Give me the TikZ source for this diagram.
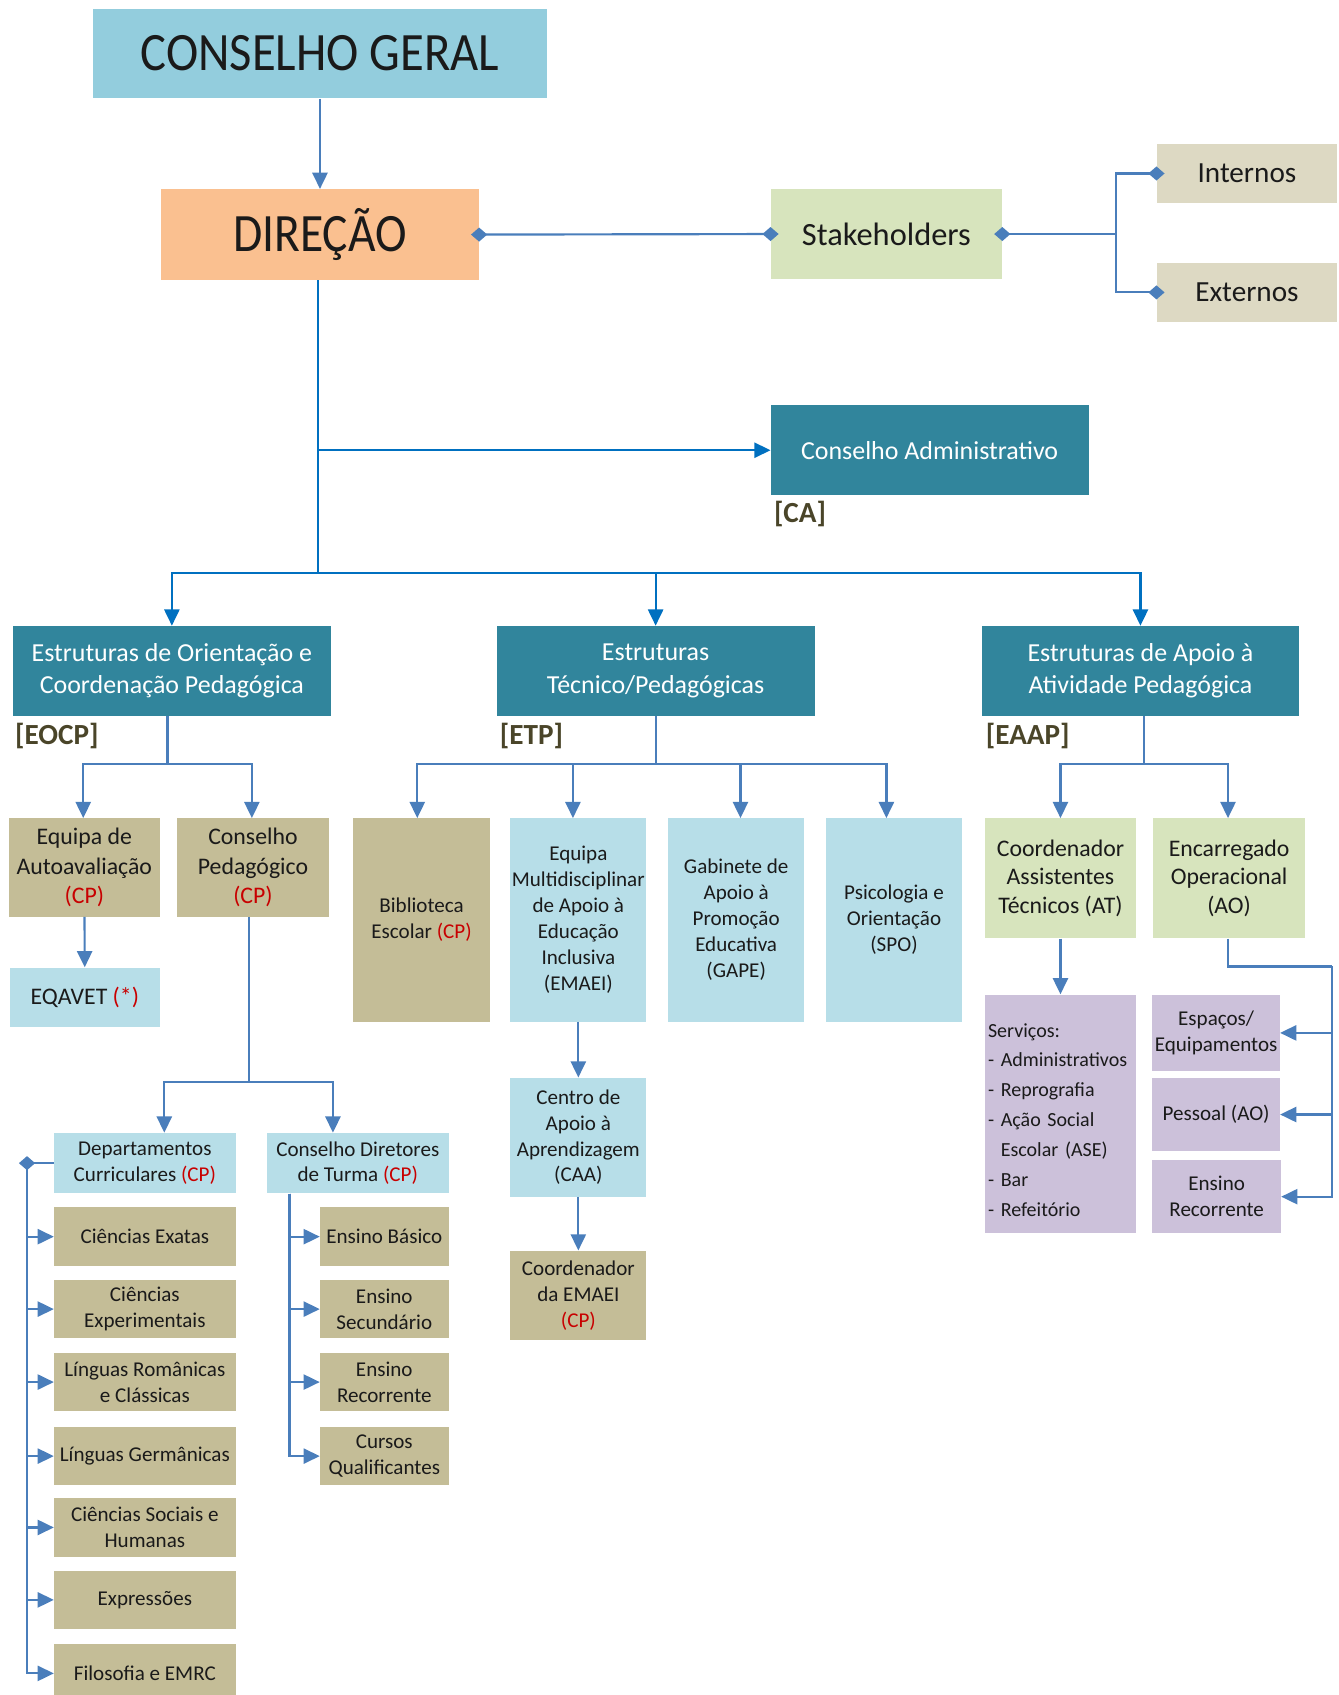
\documentclass[tikz,border=0pt]{standalone}
\usepackage{fontspec}
\setmainfont{Carlito}
\usetikzlibrary{arrows.meta,positioning}

\definecolor{cgblue}{HTML}{93CDDD}
\definecolor{dirorange}{HTML}{FAC090}
\definecolor{stkgreen}{HTML}{D7E4BD}
\definecolor{beige}{HTML}{DDD9C3}
\definecolor{tealbox}{HTML}{31859C}
\definecolor{tanbox}{HTML}{C4BD97}
\definecolor{lightblue}{HTML}{B7DEE8}
\definecolor{lilac}{HTML}{CCC1DA}
\definecolor{linkblue}{HTML}{4A7EBB}
\definecolor{trunkblue}{HTML}{0070C0}
\definecolor{labbrown}{HTML}{4A4529}
\definecolor{cpred}{HTML}{C80000}
\definecolor{txtdark}{HTML}{1A1A1A}

\newcommand{\redcp}{{\color{cpred}(CP)}}

\begin{document}
\begin{tikzpicture}[x=1pt, y=-1pt, >={Triangle[length=15pt,width=14pt]},
  box/.style={inner sep=2pt, align=center, text=txtdark},
  cgbox/.style={box, fill=cgblue, font=\fontsize{50}{56}\selectfont},
  dirbox/.style={box, fill=dirorange, font=\fontsize{50}{56}\selectfont},
  stkbox/.style={box, fill=stkgreen, font=\fontsize{30}{34}\selectfont},
  sidebox/.style={box, fill=beige, font=\fontsize{27}{32}\selectfont},
  headbox/.style={box, fill=tealbox, text=white, font=\fontsize{24}{30}\selectfont},
  tanA/.style={box, fill=tanbox, font=\fontsize{22}{27}\selectfont},
  tanB/.style={box, fill=tanbox, font=\fontsize{19.5}{24}\selectfont},
  blueA/.style={box, fill=lightblue, font=\fontsize{22}{27}\selectfont},
  blueB/.style={box, fill=lightblue, font=\fontsize{19.5}{24}\selectfont},
  greenA/.style={box, fill=stkgreen, font=\fontsize{22}{26.5}\selectfont},
  lilacB/.style={box, fill=lilac, font=\fontsize{19.5}{24}\selectfont},
  lab/.style={inner sep=0pt, anchor=north west, text=labbrown, font=\fontsize{27}{30}\selectfont\bfseries},
  cn/.style={draw=linkblue, line width=2pt},
  cnb/.style={draw=trunkblue, line width=2pt},
  dia/.style={cn, {Diamond[length=15pt,width=13pt]}-{Diamond[length=15pt,width=13pt]}, shorten <=-7.5pt, shorten >=-7.5pt},
  diaL/.style={cn, {Diamond[length=15pt,width=13pt]}-, shorten <=-7.5pt},
  diaR/.style={cn, -{Diamond[length=15pt,width=13pt]}, shorten >=-7.5pt}]

  \useasboundingbox (0,0) rectangle (1238,1568);

  % === Top: Conselho Geral and Direcao ===
  \node[cgbox, minimum width=420pt, minimum height=83pt] (CG) at (296,49.5) {\scalebox{0.9}[1]{CONSELHO GERAL}};
  \node[dirbox, minimum width=294pt, minimum height=84pt] (DIR) at (296,217) {\scalebox{0.88}[1]{DIREÇÃO}};

  % Stakeholders
  \node[stkbox, minimum width=214pt, minimum height=84pt] (STK) at (820,216.5) {Stakeholders};
  \node[sidebox, minimum width=167pt, minimum height=55pt] (INT) at (1153.5,160.5) {Internos};
  \node[sidebox, minimum width=167pt, minimum height=55pt] (EXT) at (1153.5,270.5) {Externos};

  % Conselho Administrativo
  \node[headbox, minimum width=294pt, minimum height=83pt] (CA) at (860,416.5) {Conselho Administrativo};
  \node[lab] (CAl) at ([xshift=3pt,yshift=-5pt]CA.south west) {[CA]};

  % === Estruturas ===
  \node[headbox, minimum width=294pt, minimum height=83pt] (EOCP) at (159,620.5) {Estruturas de Orientação e\\Coordenação Pedagógica};
  \node[headbox, minimum width=294pt, minimum height=83pt] (ETP) at (606.5,620.5) {Estruturas\\Técnico/Pedagógicas};
  \node[headbox, minimum width=294pt, minimum height=83pt] (EAAP) at (1055,620.5) {Estruturas de Apoio à\\Atividade Pedagógica};
  \node[lab] (EOCPl) at ([xshift=2pt,yshift=-7pt]EOCP.south west) {[EOCP]};
  \node[lab] (ETPl) at ([xshift=3pt,yshift=-7pt]ETP.south west) {[ETP]};
  \node[lab] (EAAPl) at ([xshift=4pt,yshift=-7pt]EAAP.south west) {[EAAP]};

  % EOCP branch
  \node[tanA, minimum width=140pt, minimum height=91pt] (EA) at (78,802.5) {Equipa de\\Autoavaliação\\\redcp};
  \node[tanA, minimum width=140pt, minimum height=91pt] (CP) at (234,802.5) {Conselho\\Pedagógico\\\redcp};
  \node[blueA, minimum width=139pt, minimum height=55pt] (EQ) at (78.5,922.5) {EQAVET {\color{cpred}(*)}};

  \node[blueB, minimum width=168pt, minimum height=56pt] (DC) at (134,1076) {Departamentos\\Curriculares \redcp};
  \node[blueB, minimum width=168pt, minimum height=56pt] (CDT) at (331,1076) {Conselho Diretores\\de Turma \redcp};

  % Departamentos
  \node[tanB, minimum width=168pt, minimum height=54pt] (CE) at (134,1144) {Ciências Exatas};
  \node[tanB, minimum width=168pt, minimum height=54pt] (CX) at (134,1211) {Ciências\\Experimentais};
  \node[tanB, minimum width=168pt, minimum height=54pt] (LR) at (134,1278.5) {Línguas Românicas\\e Clássicas};
  \node[tanB, minimum width=168pt, minimum height=54pt] (LG) at (134,1347) {Línguas Germânicas};
  \node[tanB, minimum width=168pt, minimum height=54pt] (CS) at (134,1413) {Ciências Sociais e\\Humanas};
  \node[tanB, minimum width=168pt, minimum height=54pt] (EX) at (134,1480) {Expressões};
  \node[tanB, minimum width=168pt, minimum height=54pt] (FE) at (134,1548) {Filosofia e EMRC};

  % Diretores de Turma
  \node[tanB, minimum width=119pt, minimum height=54pt] (EB) at (355.5,1144) {Ensino Básico};
  \node[tanB, minimum width=119pt, minimum height=54pt] (ES) at (355.5,1211) {Ensino\\Secundário};
  \node[tanB, minimum width=119pt, minimum height=54pt] (ER) at (355.5,1278.5) {Ensino\\Recorrente};
  \node[tanB, minimum width=119pt, minimum height=54pt] (CQ) at (355.5,1347) {Cursos\\Qualificantes};

  % ETP branch
  \node[tanB, minimum width=126pt, minimum height=188pt] (BE) at (390,851) {Biblioteca\\Escolar \redcp};
  \node[blueB, minimum width=126pt, minimum height=188pt, inner sep=0pt] (EM) at (535,851) {Equipa\\Multidisciplinar\\de Apoio à\\Educação\\Inclusiva\\(EMAEI)};
  \node[blueB, minimum width=126pt, minimum height=188pt] (GA) at (681,851) {Gabinete de\\Apoio à\\Promoção\\Educativa\\(GAPE)};
  \node[blueB, minimum width=126pt, minimum height=188pt] (PS) at (827,851) {Psicologia e\\Orientação\\(SPO)};
  \node[blueB, minimum width=126pt, minimum height=110pt, inner sep=0pt] (CAA) at (535,1052) {Centro de\\Apoio à\\Aprendizagem\\(CAA)};
  \node[tanB, minimum width=126pt, minimum height=83pt] (CEM) at (535,1198.5) {Coordenador\\da EMAEI\\\redcp};

  % EAAP branch
  \node[greenA, minimum width=140pt, minimum height=111pt] (CAT) at (981,812.5) {Coordenador\\Assistentes\\Técnicos (AT)};
  \node[greenA, minimum width=140pt, minimum height=111pt] (EO) at (1137,812.5) {Encarregado\\Operacional\\(AO)};
  \node[lilacB, minimum width=140pt, minimum height=221pt, align=left, text width=134pt, inner xsep=3pt,
        font=\fontsize{18.5}{27.7}\selectfont] (SV) at (981,1030.5)
       {\rule{0pt}{24pt}Serviços:\\- Administrativos\\- Reprografia\\- Ação Social\\\phantom{- }Escolar (ASE)\\- Bar\\- Refeitório};
  \node[lilacB, minimum width=118pt, minimum height=71pt, inner sep=0pt] (EQP) at (1125,955.5) {Espaços/\\Equipamentos};
  \node[lilacB, minimum width=118pt, minimum height=68pt] (PES) at (1125,1031) {Pessoal (AO)};
  \node[lilacB, minimum width=119pt, minimum height=68pt] (ERC) at (1125.5,1107) {Ensino\\Recorrente};

  % === Connections ===
  \draw[cn, ->] (CG) -- (DIR);
  \draw[dia] (DIR.east) -- (STK.west);
  \coordinate (sk) at (1032,216.5);
  \draw[diaL] (STK.east) -- (sk);
  \draw[diaR] (sk) |- (INT.west);
  \draw[diaR] (sk) |- (EXT.west);

  \coordinate (d1) at (294,530);
  \draw[cnb] (DIR.south -| d1) -- (d1);
  \draw[cnb, ->] (d1 |- CA.west) -- (CA.west);
  \draw[cnb, ->] (d1) -| (EOCP.north);
  \draw[cnb, ->] (d1) -| (ETP.north);
  \draw[cnb, ->] (d1) -| (EAAP.north);

  % EOCP
  \coordinate (e1) at ([xshift=-4pt]EOCP.south |- 0,707);
  \draw[cn] ([xshift=-4pt]EOCP.south) -- (e1);
  \draw[cn, ->] (e1) -| ([xshift=-1pt]EA.north);
  \draw[cn, ->] (e1) -| ([xshift=-1pt]CP.north);
  \draw[cn, ->] (EA) -- (EQ);
  \coordinate (c1) at ([xshift=-4pt]CP.south |- 0,1001);
  \draw[cn] ([xshift=-4pt]CP.south) -- (c1);
  \draw[cn, ->] (c1) -| ([xshift=18pt]DC.north);
  \draw[cn, ->] (c1) -| ([xshift=-23pt]CDT.north);

  \coordinate (dl) at (25,1076);
  \draw[diaR] (DC.west) -- (dl);
  \foreach \n in {CE,CX,LR,LG,CS,EX,FE}
    \draw[cn, ->] (dl) |- (\n.west);
  \coordinate (ct) at ([xshift=21pt]CDT.south west);
  \foreach \n in {EB,ES,ER,CQ}
    \draw[cn, ->] (ct) |- (\n.west);

  % ETP
  \coordinate (t1) at (ETP.south |- 0,707);
  \draw[cn] (ETP.south) -- (t1);
  \draw[cn, ->] (t1) -| ([xshift=-4pt]BE.north);
  \draw[cn, ->] (t1) -| ([xshift=-5pt]EM.north);
  \draw[cn, ->] (t1) -| ([xshift=4pt]GA.north);
  \draw[cn, ->] (t1) -| ([xshift=-7pt]PS.north);
  \draw[cn, ->] (EM) -- (CAA);
  \draw[cn, ->] (CAA) -- (CEM);

  % EAAP
  \coordinate (a1) at ([xshift=3pt]EAAP.south |- 0,707);
  \draw[cn] ([xshift=3pt]EAAP.south) -- (a1);
  \draw[cn, ->] (a1) -| (CAT.north);
  \draw[cn, ->] (a1) -| ([xshift=-1pt]EO.north);
  \draw[cn, ->] (CAT) -- (SV);
  \coordinate (o1) at ([xshift=-1pt]EO.south |- 0,894);
  \coordinate (o2) at (1232,894);
  \draw[cn] ([xshift=-1pt]EO.south) -- (o1) -- (o2);
  \draw[cn, ->] (o2) |- (EQP.east);
  \draw[cn, ->] (o2) |- (PES.east);
  \draw[cn, ->] (o2) |- (ERC.east);

\end{tikzpicture}
\end{document}
